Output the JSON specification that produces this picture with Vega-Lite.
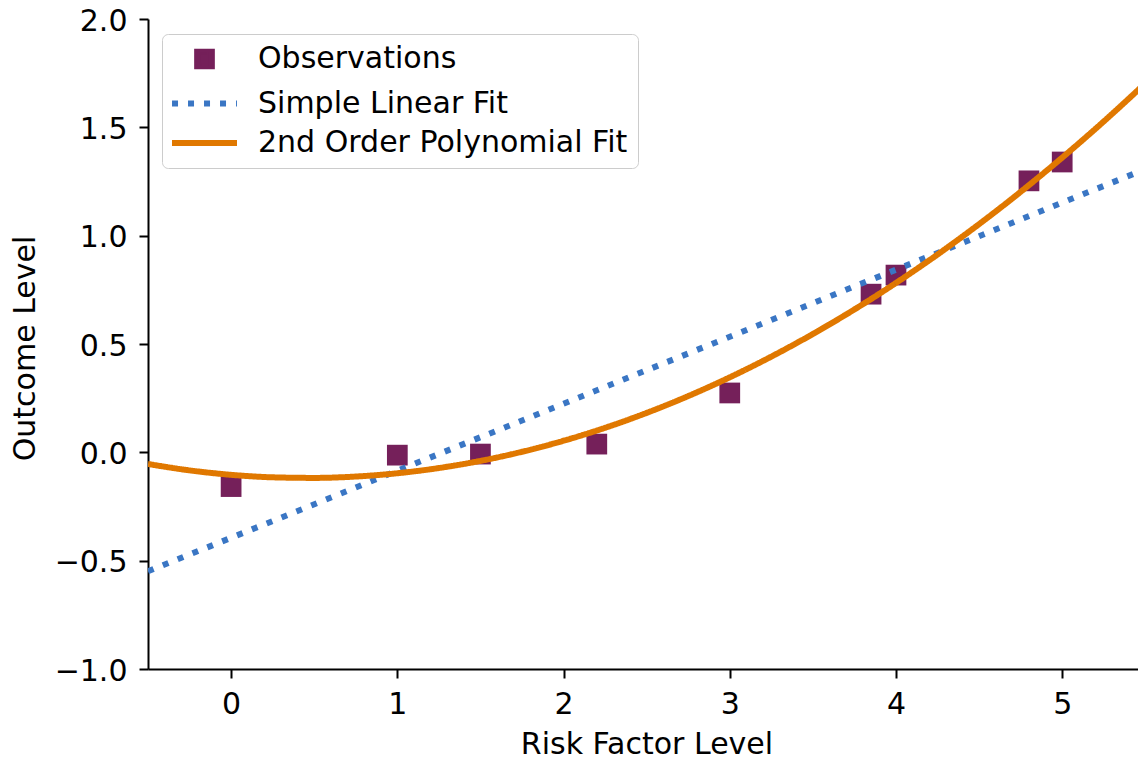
{
  "$schema": "https://vega.github.io/schema/vega-lite/v6.json",
  "width": 990,
  "height": 650,
  "autosize": {"type": "none"},
  "padding": {"left": 148, "top": 19, "right": 0, "bottom": 88},
  "background": "white",
  "config": {
    "view": {"stroke": null},
    "font": "DejaVu Sans",
    "axis": {
      "domainColor": "black", "domainWidth": 2, "tickColor": "black", "tickWidth": 2, "tickSize": 9,
      "labelFont": "DejaVu Sans", "labelFontSize": 30, "labelColor": "black",
      "titleFont": "DejaVu Sans", "titleFontSize": 30, "titleFontWeight": "normal", "titleColor": "black",
      "grid": false
    },
    "legend": {
      "orient": "none",
      "legendX": 14,
      "legendY": 15,
      "padding": 10,
      "symbolSize": 216,
      "symbolStrokeWidth": 6,
      "symbolOffset": 17.5,
      "labelOffset": 38.5,
      "rowPadding": 9.5,
      "labelFont": "DejaVu Sans",
      "labelFontSize": 30,
      "labelColor": "black",
      "labelLimit": 700,
      "strokeColor": "#cccccc",
      "fillColor": "rgba(255,255,255,0.8)",
      "cornerRadius": 6
    }
  },
  "data": {
    "values": [
      {"series": "Observations", "x": 0, "y": -0.158},
      {"series": "Observations", "x": 1, "y": -0.013},
      {"series": "Observations", "x": 1.5, "y": -0.008},
      {"series": "Observations", "x": 2.2, "y": 0.038},
      {"series": "Observations", "x": 3, "y": 0.274},
      {"series": "Observations", "x": 3.85, "y": 0.73},
      {"series": "Observations", "x": 4, "y": 0.818},
      {"series": "Observations", "x": 4.8, "y": 1.253},
      {"series": "Observations", "x": 5, "y": 1.34},
      {"series": "Simple Linear Fit", "x": -0.5, "y": -0.549},
      {"series": "Simple Linear Fit", "x": 5.5, "y": 1.307},
      {"series": "2nd Order Polynomial Fit", "x": -0.5, "y": -0.0537},
      {"series": "2nd Order Polynomial Fit", "x": -0.25, "y": -0.0832},
      {"series": "2nd Order Polynomial Fit", "x": 0, "y": -0.1037},
      {"series": "2nd Order Polynomial Fit", "x": 0.25, "y": -0.1153},
      {"series": "2nd Order Polynomial Fit", "x": 0.5, "y": -0.118},
      {"series": "2nd Order Polynomial Fit", "x": 0.75, "y": -0.1117},
      {"series": "2nd Order Polynomial Fit", "x": 1, "y": -0.0965},
      {"series": "2nd Order Polynomial Fit", "x": 1.25, "y": -0.0724},
      {"series": "2nd Order Polynomial Fit", "x": 1.5, "y": -0.0394},
      {"series": "2nd Order Polynomial Fit", "x": 1.75, "y": 0.0026},
      {"series": "2nd Order Polynomial Fit", "x": 2, "y": 0.0535},
      {"series": "2nd Order Polynomial Fit", "x": 2.25, "y": 0.1133},
      {"series": "2nd Order Polynomial Fit", "x": 2.5, "y": 0.1821},
      {"series": "2nd Order Polynomial Fit", "x": 2.75, "y": 0.2597},
      {"series": "2nd Order Polynomial Fit", "x": 3, "y": 0.3463},
      {"series": "2nd Order Polynomial Fit", "x": 3.25, "y": 0.4418},
      {"series": "2nd Order Polynomial Fit", "x": 3.5, "y": 0.5463},
      {"series": "2nd Order Polynomial Fit", "x": 3.75, "y": 0.6596},
      {"series": "2nd Order Polynomial Fit", "x": 4, "y": 0.7819},
      {"series": "2nd Order Polynomial Fit", "x": 4.25, "y": 0.9131},
      {"series": "2nd Order Polynomial Fit", "x": 4.5, "y": 1.0533},
      {"series": "2nd Order Polynomial Fit", "x": 4.75, "y": 1.2023},
      {"series": "2nd Order Polynomial Fit", "x": 5, "y": 1.3603},
      {"series": "2nd Order Polynomial Fit", "x": 5.25, "y": 1.5272},
      {"series": "2nd Order Polynomial Fit", "x": 5.5, "y": 1.7031}
    ]
  },
  "encoding": {
    "x": {
      "field": "x", "type": "quantitative",
      "scale": {"domain": [-0.5, 5.456], "nice": false, "zero": false},
      "axis": {"values": [0, 1, 2, 3, 4, 5], "format": "d", "title": "Risk Factor Level", "labelPadding": 11, "titlePadding": 10, "titleX": 498.5}
    },
    "y": {
      "field": "y", "type": "quantitative",
      "scale": {"domain": [-1, 2], "nice": false, "zero": false},
      "axis": {"values": [-1, -0.5, 0, 0.5, 1, 1.5, 2], "format": ".1f", "title": "Outcome Level", "labelPadding": 12, "titlePadding": 14, "labelOffset": 2, "titleY": 329}
    },
    "color": {
      "field": "series", "type": "nominal",
      "scale": {"domain": ["Observations", "Simple Linear Fit", "2nd Order Polynomial Fit"], "range": ["#75205a", "#3a76c4", "#e07800"]},
      "legend": {"title": null}
    }
  },
  "layer": [
    {
      "transform": [{"filter": "datum.series === 'Observations'"}],
      "mark": {"type": "point", "filled": true, "size": 430, "opacity": 1},
      "encoding": {
        "shape": {
          "field": "series", "type": "nominal",
          "scale": {"domain": ["Observations", "Simple Linear Fit", "2nd Order Polynomial Fit"], "range": ["square", "M-4.42,0H4.42", "M-4.42,0H4.42"]},
          "legend": {"title": null}
        }
      }
    },
    {
      "transform": [{"filter": "datum.series === 'Simple Linear Fit'"}],
      "mark": {"type": "line", "strokeWidth": 6, "strokeCap": "butt", "clip": true},
      "encoding": {
        "strokeDash": {
          "field": "series", "type": "nominal",
          "scale": {"domain": ["Observations", "Simple Linear Fit", "2nd Order Polynomial Fit"], "range": [[1, 0], [6, 10], [1, 0]]},
          "legend": {"title": null}
        }
      }
    },
    {
      "transform": [{"filter": "datum.series === '2nd Order Polynomial Fit'"}],
      "mark": {"type": "line", "strokeWidth": 6, "interpolate": "monotone", "clip": true},
      "encoding": {
        "strokeDash": {
          "field": "series", "type": "nominal",
          "legend": {"title": null}
        }
      }
    },
    {
      "data": {"values": [{}]},
      "mark": {"type": "rule", "color": "black", "strokeWidth": 2},
      "encoding": {"x": null, "color": null, "y": {"datum": 2}}
    }
  ]
}
